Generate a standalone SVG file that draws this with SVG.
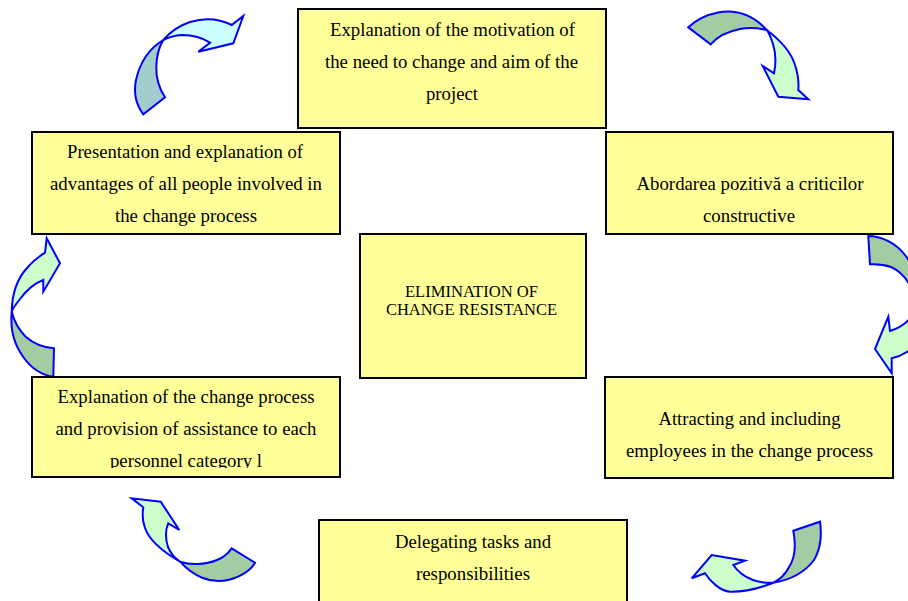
<svg xmlns="http://www.w3.org/2000/svg" width="908" height="601" viewBox="0 0 908 601">
<defs>
<style>
.box{fill:#FFFF99;stroke:#000;stroke-width:2}
.t{font-family:"Liberation Serif","Times New Roman",serif;font-size:18.5px;fill:#000;text-anchor:middle}
.c{font-family:"Liberation Serif","Times New Roman",serif;font-size:16px;fill:#000;text-anchor:middle}
.arr{stroke:#0000FF;stroke-width:2;stroke-linejoin:miter}
.lg{fill:#CCFFCC}
.dg{fill:#A3CCA3}
.lc{fill:#CCFFFF}
.dc{fill:#A3CCCC}
</style>
<clipPath id="clipLB"><rect x="32" y="377" width="308" height="91"/></clipPath>
</defs>
<rect width="908" height="601" fill="#fff"/>

<g id="connectors">
  <g id="arrow-tl">
    <path class="arr dc" d="M163.3,40 C150,48 140,62 136,80 C133,95 137,106 143.3,114.3 L165,97.3 C159,88 156,76 156.3,66.7 C156.5,56 159,47 163.3,40 Z"/>
    <path class="arr lc" d="M163.3,40 C170,32 178,26 190,22 C203,18 218,18 231.7,25 L243.3,16 L233.3,43.3 L198.3,51.7 L210,42.7 C203,38 193,35 182,35 C175,35.5 168,37.5 163.3,40 Z"/>
  </g>
  <g id="arrow-tr">
    <path class="arr dg" d="M688.3,27.3 C695,21 705,15 718,12.5 C735,9.5 752,14 766.7,30 C758,28 748,27.5 740,29 C727,31.5 717,37 710.7,44.3 Z"/>
    <path class="arr lg" d="M766.7,30 C780,40 791,52 795,65 C798,74 799,82 798.3,90 L808.3,99.3 L778.3,96.7 L762.7,66 L774,73.3 C776,64 775.5,52 773,44 C771,38 769,33 766.7,30 Z"/>
  </g>
  <g id="arrow-r">
    <path class="arr dg" d="M868.3,236 C880,236 895,242 905,255 C912,264 918,274 922,285 L912,290 C908,280 900,271 891,267 C884,264.5 876,264 870,264.3 Z"/>
    <path class="arr lg" d="M915,312 C910,320 902,327 890,331 L888.3,316.7 L875,349 L891.7,373.3 L891.7,358.3 C902,356 912,350 922,340 Z"/>
  </g>
  <g id="arrow-l">
    <path class="arr lg" d="M11.7,311.7 C12,295 17,279 27,268 C32,262 38,257 45,252.7 L46.7,238.3 L60,263.3 L43.3,291.7 L43.3,280 C35,283 26,291 20,299 C16,304 13,308 11.7,311.7 Z"/>
    <path class="arr dg" d="M11.7,311.7 C10,330 14,345 24,358 C32,369 42,375 53.3,376.7 L54,348.3 C44,347.5 34,344 26,337 C19,330 14,321 11.7,311.7 Z"/>
  </g>
  <g id="arrow-bl">
    <path class="arr lg" d="M180,561.7 C165,553 150,542 145,528 C142,520 142.5,512 143.3,507.3 L131.7,498.3 L160.7,501.7 L179.3,530 L168.3,523.3 C165,530 165.5,540 168,547 C171,554 175,558.5 180,561.7 Z"/>
    <path class="arr dg" d="M180,561.7 C190,565 205,565 217,560 C225,557 229,552 231.7,548.3 L255,562.7 C251,570 241,577 228,580 C210,584 193,576 180,561.7 Z"/>
  </g>
  <g id="arrow-br">
    <path class="arr dg" d="M793.3,530.7 C796,545 795,558 789,567 C785,575 779,580 773.3,582.7 C790,580 805,572 814,560 C820,550 822,536 820,521.7 Z"/>
    <path class="arr lg" d="M773.3,582.7 C760,588 745,592 730,591.7 C720,591 710,581 705,573.3 L691.7,578.3 L711.7,555 L745,560.7 L733.3,565 C738,572 745,577 753,580 C760,582.5 767,583 773.3,582.7 Z"/>
  </g>
</g>

<g id="node-top">
  <rect class="box" x="298" y="9" width="308" height="119"/>
  <text class="t" x="452.5" y="36" textLength="245" lengthAdjust="spacingAndGlyphs">Explanation of the motivation of</text>
  <text class="t" x="451.5" y="68" textLength="253" lengthAdjust="spacingAndGlyphs">the need to change and aim of the</text>
  <text class="t" x="452" y="100" textLength="52" lengthAdjust="spacingAndGlyphs">project</text>
</g>
<g id="node-left-top">
  <rect class="box" x="32" y="132" width="308" height="102"/>
  <text class="t" x="185" y="158" textLength="236" lengthAdjust="spacingAndGlyphs">Presentation and explanation of</text>
  <text class="t" x="186" y="190" textLength="272" lengthAdjust="spacingAndGlyphs">advantages of all people involved in</text>
  <text class="t" x="186" y="222" textLength="142" lengthAdjust="spacingAndGlyphs">the change process</text>
</g>
<g id="node-right-top">
  <rect class="box" x="606" y="132" width="287" height="102"/>
  <text class="t" x="750" y="190" textLength="227" lengthAdjust="spacingAndGlyphs">Abordarea pozitivă a criticilor</text>
  <text class="t" x="749" y="222" textLength="92" lengthAdjust="spacingAndGlyphs">constructive</text>
</g>
<g id="node-center">
  <rect class="box" x="360" y="234" width="226" height="144"/>
  <text class="c" x="471.5" y="297" textLength="133" lengthAdjust="spacingAndGlyphs">ELIMINATION OF</text>
  <text class="c" x="471.5" y="315" textLength="171" lengthAdjust="spacingAndGlyphs">CHANGE RESISTANCE</text>
</g>
<g id="node-left-bottom">
  <rect class="box" x="32" y="377" width="308" height="100"/>
  <g clip-path="url(#clipLB)">
    <text class="t" x="186" y="403" textLength="257" lengthAdjust="spacingAndGlyphs">Explanation of the change process</text>
    <text class="t" x="186" y="435" textLength="261" lengthAdjust="spacingAndGlyphs">and provision of assistance to each</text>
    <text class="t" x="186" y="467" textLength="152" lengthAdjust="spacingAndGlyphs">personnel category l</text>
  </g>
</g>
<g id="node-right-bottom">
  <rect class="box" x="605" y="377" width="288" height="101"/>
  <text class="t" x="749.5" y="425" textLength="182" lengthAdjust="spacingAndGlyphs">Attracting and including</text>
  <text class="t" x="749.5" y="457" textLength="247" lengthAdjust="spacingAndGlyphs">employees in the change process</text>
</g>
<g id="node-bottom">
  <rect class="box" x="319" y="520" width="308" height="100"/>
  <text class="t" x="473" y="548" textLength="156" lengthAdjust="spacingAndGlyphs">Delegating tasks and</text>
  <text class="t" x="473" y="580" textLength="114" lengthAdjust="spacingAndGlyphs">responsibilities</text>
</g>
</svg>
